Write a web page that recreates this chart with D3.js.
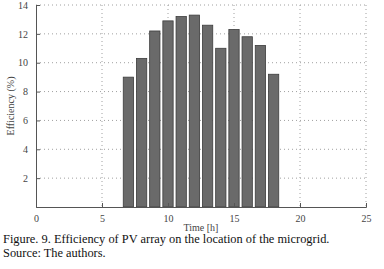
<!DOCTYPE html>
<html>
<head>
<meta charset="utf-8">
<script src="https://cdn.jsdelivr.net/npm/d3@7"></script>
<style>
  body { margin: 0; background: #fff; }
  svg { display: block; font-family: "Liberation Serif", "Times New Roman", serif; }
</style>
</head>
<body>
<div id="chart"></div>
<script>
// PV array efficiency per hour
const hours = [7, 8, 9, 10, 11, 12, 13, 14, 15, 16, 17, 18];
const efficiency = [9.0, 10.3, 12.2, 12.9, 13.2, 13.3, 12.6, 11.0, 12.3, 11.8, 11.2, 9.2];
const xTicks = [0, 5, 10, 15, 20, 25];
const yTicks = [2, 4, 6, 8, 10, 12, 14];

const W = 384, H = 269;
const margin = { left: 36, right: 18, top: 5, bottom: 62 };
const w = W - margin.left - margin.right;
const h = H - margin.top - margin.bottom;
const serif = '"Liberation Serif", "Times New Roman", serif';

const svg = d3.select('#chart').append('svg')
  .attr('width', W).attr('height', H);

const g = svg.append('g')
  .attr('transform', `translate(${margin.left},${margin.top})`);

const x = d3.scaleLinear().domain([0, 25]).range([0, w]);
const y = d3.scaleLinear().domain([0, 14]).range([h, 0]);

// Dotted grid
g.append('g')
  .selectAll('line')
  .data(xTicks.filter(d => d > 0))
  .join('line')
  .attr('x1', d => x(d)).attr('x2', d => x(d))
  .attr('y1', 0).attr('y2', h)
  .style('stroke', '#a0a0a0').style('stroke-width', 1).style('stroke-dasharray', '1,3');

g.append('g')
  .selectAll('line')
  .data(yTicks)
  .join('line')
  .attr('x1', 0).attr('x2', w)
  .attr('y1', d => y(d)).attr('y2', d => y(d))
  .style('stroke', '#a0a0a0').style('stroke-width', 1).style('stroke-dasharray', '1,3');

// Bars
const bw = x(0.78) - x(0);
g.selectAll('.bar')
  .data(hours)
  .join('rect')
  .attr('class', 'bar')
  .attr('x', d => x(d) - bw / 2)
  .attr('width', bw)
  .attr('y', (d, i) => y(efficiency[i]))
  .attr('height', (d, i) => h - y(efficiency[i]))
  .attr('fill', '#6a6a6a')
  .attr('stroke', '#3c3c3c')
  .attr('stroke-width', 0.8);

// Axes
const xAxis = g.append('g')
  .attr('transform', `translate(0,${h})`)
  .call(d3.axisBottom(x).tickValues(xTicks).tickSize(-4).tickPadding(8).tickFormat(d3.format('d')));
const yAxis = g.append('g')
  .call(d3.axisLeft(y).tickValues(yTicks).tickSize(-4).tickPadding(8).tickFormat(d3.format('d')));

[xAxis, yAxis].forEach(a => {
  a.attr('font-family', serif);
  a.select('.domain').style('stroke', '#555').style('stroke-width', 1);
  a.selectAll('.tick line').style('stroke', '#555');
  a.selectAll('text').style('font-family', serif)
    .style('font-size', '10px').style('fill', '#444');
});

// Axis labels
g.append('text')
  .attr('x', w / 2).attr('y', h + 24).attr('text-anchor', 'middle')
  .style('font-family', serif).style('font-size', '10px').style('fill', '#444')
  .text('Time [h]');

g.append('text')
  .attr('transform', 'rotate(-90)')
  .attr('x', -h / 2).attr('y', -22).attr('text-anchor', 'middle')
  .style('font-family', serif).style('font-size', '10px').style('fill', '#444')
  .text('Efficiency (%)');

// Caption
svg.append('text')
  .attr('x', 3).attr('y', 243)
  .style('font-family', serif).style('font-size', '12.4px').style('fill', '#111')
  .text('Figure. 9. Efficiency of PV array on the location of the microgrid.');
svg.append('text')
  .attr('x', 3).attr('y', 257)
  .style('font-family', serif).style('font-size', '12.4px').style('fill', '#111')
  .text('Source: The authors.');
</script>
</body>
</html>
